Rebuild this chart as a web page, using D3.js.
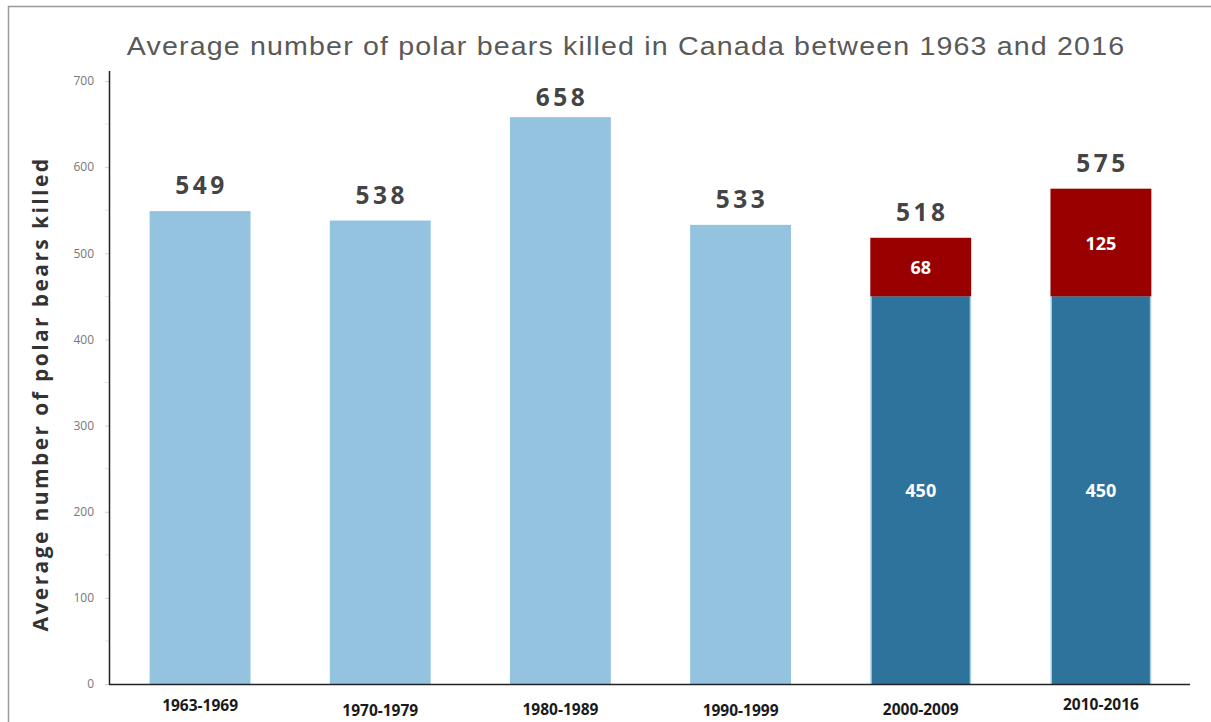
<!DOCTYPE html>
<html>
<head>
<meta charset="utf-8">
<script src="https://cdn.jsdelivr.net/npm/d3@7"></script>
<style>
  html, body { margin: 0; padding: 0; background: #fff; }
  svg { display: block; }
</style>
</head>
<body>
<svg id="chart" width="1211" height="722"></svg>
<script>
// Decades and the average number of polar bears killed per year
const periods = ["1963-1969", "1970-1979", "1980-1989", "1990-1999", "2000-2009", "2010-2016"];
const totals = [549, 538, 658, 533, 518, 575];
// For the last two decades the total splits into a base part and an extra part
const baseParts = [null, null, null, null, 450, 450];
const extraParts = [null, null, null, null, 68, 125];
const yTicks = [0, 100, 200, 300, 400, 500, 600, 700];
const labelYOffsets = [-3, 2, 1, 2, 1, -4];

const svg = d3.select("#chart");
const W = 1211, H = 722;

// Frame lines
svg.append("line").attr("x1", 8).attr("x2", W).attr("y1", 6.5).attr("y2", 6.5)
  .attr("stroke", "#9a9a9a").attr("stroke-width", 1.5);
svg.append("line").attr("x1", 8.5).attr("x2", 8.5).attr("y1", 6).attr("y2", H)
  .attr("stroke", "#9a9a9a").attr("stroke-width", 1.5);

const x = d3.scaleBand().domain(periods).range([110, 1191]).paddingInner(0.44).paddingOuter(0.22);
const y = d3.scaleLinear().domain([0, 700]).range([684, 81]);

// Title (slightly widened), clipped along its lower edge
svg.append("clipPath").attr("id", "titleClip")
  .append("rect").attr("x", 0).attr("y", 0).attr("width", W).attr("height", 60);
svg.append("g").attr("clip-path", "url(#titleClip)")
  .append("text")
  .attr("transform", "translate(626,55) scale(1.1,1)")
  .attr("text-anchor", "middle")
  .attr("font-family", "'Liberation Sans', Arial, sans-serif")
  .attr("font-size", 26)
  .attr("letter-spacing", 1.05)
  .attr("fill", "#595959")
  .text("Average number of polar bears killed in Canada between 1963 and 2016");

// Y axis
const yAxis = d3.axisLeft(y).tickValues(yTicks).tickSize(4).tickPadding(11);
const yg = svg.append("g").attr("transform", "translate(109,0)").call(yAxis);
yg.select(".domain").remove();
yg.selectAll(".tick line").attr("stroke", "#d0d0d0");
yg.selectAll(".tick text")
  .attr("font-family", "'Open Sans', sans-serif")
  .attr("font-size", 12)
  .attr("fill", "#777");
// minor ticks between labels
svg.append("g").selectAll("line")
  .data(d3.range(50, 700, 100))
  .join("line")
  .attr("x1", 105).attr("x2", 109)
  .attr("y1", d => y(d)).attr("y2", d => y(d))
  .attr("stroke", "#e0e0e0");

svg.append("line").attr("x1", 109.5).attr("x2", 109.5).attr("y1", 71).attr("y2", 685)
  .attr("stroke", "#222").attr("stroke-width", 1.5);

// Y axis title
svg.append("text")
  .attr("transform", "translate(48," + 394 + ") rotate(-90)")
  .attr("text-anchor", "middle")
  .attr("font-family", "'Open Sans', sans-serif")
  .attr("font-weight", "bold")
  .attr("font-size", 21)
  .attr("letter-spacing", 2.4)
  .attr("fill", "#333")
  .text("Average number of polar bears killed");

// Bars
const bars = svg.append("g");
periods.forEach((p, i) => {
  const bx = x(p), bw = x.bandwidth();
  if (baseParts[i] === null) {
    bars.append("rect")
      .attr("x", bx).attr("width", bw)
      .attr("y", y(totals[i])).attr("height", y(0) - y(totals[i]))
      .attr("fill", "#93c3df");
  } else {
    const b = baseParts[i], e = extraParts[i];
    bars.append("rect")
      .attr("x", bx).attr("width", bw)
      .attr("y", y(b)).attr("height", y(0) - y(b))
      .attr("fill", "#a9cfe6");
    bars.append("rect")
      .attr("x", bx + 1.5).attr("width", bw - 3)
      .attr("y", y(b)).attr("height", y(0) - y(b))
      .attr("fill", "#2e739c");
    bars.append("rect")
      .attr("x", bx).attr("width", bw)
      .attr("y", y(b + e)).attr("height", y(b) - y(b + e))
      .attr("fill", "#990000");
    // values inside segments
    bars.append("text")
      .attr("x", bx + bw / 2).attr("y", y(b / 2) + 7)
      .attr("text-anchor", "middle")
      .attr("font-family", "'Open Sans', sans-serif")
      .attr("font-weight", "bold").attr("font-size", 18)
      .attr("fill", "#fff")
      .text(b);
    bars.append("text")
      .attr("x", bx + bw / 2).attr("y", y(b + e / 2) + 7)
      .attr("text-anchor", "middle")
      .attr("font-family", "'Open Sans', sans-serif")
      .attr("font-weight", "bold").attr("font-size", 18)
      .attr("fill", "#fff")
      .text(e);
  }
  // total above bar
  bars.append("text")
    .attr("x", bx + bw / 2 + 1.5).attr("y", y(totals[i]) - (totals[i] > 600 ? 11 : 17))
    .attr("text-anchor", "middle")
    .attr("font-family", "'Open Sans', sans-serif")
    .attr("font-weight", "bold").attr("font-size", 24.5)
    .attr("letter-spacing", 3.5)
    .attr("fill", "#444")
    .text(totals[i]);
});

// X axis line and labels
svg.append("line").attr("x1", 109).attr("x2", 1190).attr("y1", 684.5).attr("y2", 684.5)
  .attr("stroke", "#222").attr("stroke-width", 1.5);
const xAxis = d3.axisBottom(x).tickSize(0).tickPadding(0);
const xg = svg.append("g").attr("transform", "translate(0,684)").call(xAxis);
xg.select(".domain").remove();
xg.selectAll(".tick text")
  .attr("y", (d, i) => 30 + labelYOffsets[i])
  .attr("dy", null)
  .attr("font-family", "'Open Sans', sans-serif")
  .attr("font-weight", "bold")
  .attr("font-size", 15.5)
  .attr("fill", "#1a1a1a");
</script>
</body>
</html>
